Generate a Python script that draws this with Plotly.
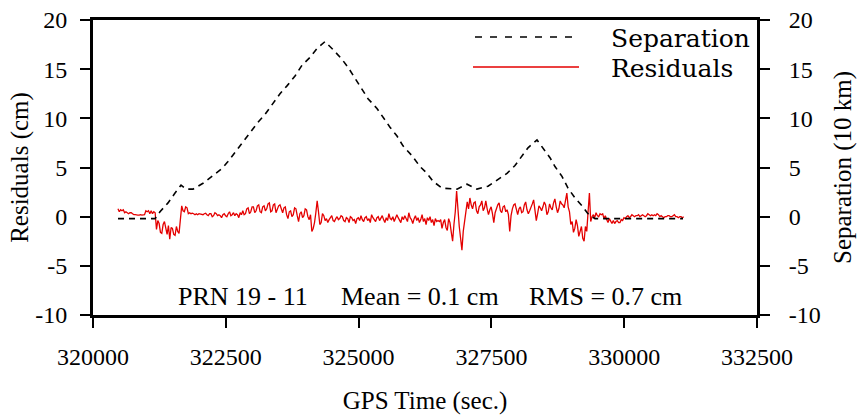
import plotly.graph_objects as go

# ---------------- data ----------------
sep_time = [320471, 321167, 321261, 321412, 321544, 321657, 321751, 321883, 322071, 322259,
            322428, 322541, 322711, 322824, 322993, 323106, 323238, 323389, 323520, 323652,
            323803, 323934, 324085, 324217, 324367, 324518, 324687, 324800, 324932, 325064,
            325177, 325346, 325459, 325591, 325723, 325836, 326005, 326156, 326288, 326401,
            326570, 326852, 327041, 327229, 327436, 327624, 327794, 327944, 328076, 328189,
            328358, 328471, 328603, 328697, 328829, 328942, 329074, 329205, 329318, 329450,
            331107]
sep_value = [-0.2, -0.2, 0.5, 1.4, 2.4, 3.2, 2.8, 2.8, 3.4, 4.2,
             4.9, 5.6, 6.8, 7.7, 8.9, 9.6, 10.4, 11.5, 12.5, 13.3,
             14.3, 15.4, 16.2, 17.1, 17.8, 17.0, 16.0, 15.2, 14.1, 13.0,
             12.0, 11.0, 10.1, 9.1, 8.2, 7.2, 6.2, 5.1, 4.4, 3.6,
             2.9, 2.8, 3.3, 2.8, 3.1, 3.8, 4.4, 5.2, 6.2, 7.0,
             7.8, 7.0, 6.0, 5.1, 4.1, 2.9, 1.9, 1.1, 0.3, -0.2,
             -0.2]

res_start = 320470
res_step = 25
res_value = [
    # early segment
    0.8, 0.5, 0.7, 0.6, 0.7, 0.4, 0.5, 0.4, 0.3, 0.4, 0.4, 0.3, 0.2, 0.2, 0.15, 0.15, 0.15, 0.2, 0.15,
    0.2, 0.2, 0.6, 0.5, 0.6, 0.3, 0.6, 0.3, 0.5, 0.4,
    # first dip
    -1.3, -0.4, -0.7, -1.6, -1.7, -0.8, -0.5, -1.4, -1.8, -0.9, -2.3, -1.1, -1.2, -1.8, -1.9, -1.0,
    -1.5, -1.7, -0.6,
    # quiet rise
    1.1, 0.6, 0.5, 1.0, 0.9, 0.3, 0.4, 0.3, 0.35, 0.3, 0.2, 0.3, 0.2, 0.3, 0.25, 0.2, 0.2, 0.3, 0.35,
    0.2, 0.1, 0.3, 0.3, 0.0, 0.1, 0.4, 0.3, 0.1, 0.2, 0.1, -0.1, 0.2, 0.3, 0.1, 0.0, 0.3, 0.5, 0.1,
    0.2, 0.4, 0.1, 0.3, 0.2, -0.1, 0.4, 0.2,
    0.6, 0.2, 0.3, 0.8, 0.9, 0.3, 0.5, 1.0, 1.0, 0.4, 0.6, 1.1, 1.2, 0.5, 0.4, 1.0, 1.1, 0.6, 0.8,
    1.3, 1.4, 0.5, 0.6, 1.2, 1.3, 0.4, 0.7, 1.1, 1.2, 0.8,
    0.4, 0.9, 1.0, 0.2, -0.2, 0.5, 0.6, 0.0, 0.2, 0.9, 0.8, 0.1, -0.5, 0.3, 0.5, -0.1, 0.1, 0.8, 0.7,
    0.0, -0.3, 0.2,
    -1.5, -1.2, -0.6, 0.4, 1.6, 0.5, -0.8, -0.6, 0.3, 0.1, -0.4, -0.2, -0.6,
    # long quiet stretch
    -0.3, -0.1, 0.1, -0.4, -0.5, -0.2, 0.0, -0.3, -0.2, 0.1,
    0.0, -0.4, -0.5, -0.1, -0.2, -0.6, 0.0, -0.1, -0.4, -0.3,
    -0.7, -0.2, -0.1, -0.4, 0.1, -0.3, -0.5, -0.1, 0.0, -0.4,
    -0.2, -0.6, 0.2, -0.1, -0.3, -0.5, -0.1, 0.0, -0.4, -0.2,
    0.1, -0.3, -0.6, -0.1, -0.4, 0.3, -0.2, -0.3, 0.0, -0.5,
    -0.2, 0.2, -0.1, -0.4, -0.6, 0.0, -0.3, 0.1, -0.2, -0.5,
    0.4, -0.1, -0.3, -0.7, -0.2, 0.1, -0.4, -0.1, -0.6, -0.3,
    0.2, -0.5, -0.2, -0.8, -0.1, -0.4, 0.0, -0.6, -0.3, -0.9,
    -0.2, -0.5, -0.4,
    # noisy middle
    -0.5, -0.3, -1.2, -0.6, -0.3, -1.1, -1.4, -0.2, -0.6, -1.6, -2.5, -0.8, 0.5, 2.6,
    0.5, -1.0, -2.2, -3.4, -1.5, -0.5, 0.3, 1.5, 0.8,
    1.9, 1.2, 0.8, 1.4, 1.5, 0.6, 0.3, 1.0, 1.2, 1.6,
    0.6, 0.9, 1.6, 0.8, 0.2, 0.7, 1.0, 0.3, -0.6, 0.4,
    0.9, 1.2, 1.4, 0.6, 0.4, 1.0, 1.1, 0.5, 0.7, 0.2,
    -1.5, 0.1, 0.8, 1.2, 1.3, 0.6, 0.2, 0.8, 1.0, 0.4,
    0.5, 1.2, 1.5, 0.7, 0.3, 0.6, 0.9, 1.3, 1.7, 0.8,
    -0.4, 0.3, 1.1, 0.9, 0.6, 1.0, 1.5, 1.2, 0.2, 0.5,
    1.3, 0.9, 0.7, 1.4, 1.8, 1.0, 0.4, 0.8, 1.6, 1.3,
    1.2, 0.9, 1.9,
    2.4, 1.0, 0.5, -0.8, -0.5, -1.6, -1.2, -0.3, -0.9, -2.0, -1.5, -1.0, -2.2, -2.5, -1.0, -1.5, 0.5, 2.4,
    -0.5, 0.0, 0.2, -0.1, 0.4, 0.1, 0.0, 0.3, 0.2, 0.3, -0.2, 0.1,
    -0.3, -0.6, -0.2, -0.5, -0.7, -0.4, -0.7, -0.5, -0.4, -0.6, -0.6, -0.3, -0.4, -0.1, -0.2,
    # tail
    0.0, 0.1, -0.1, 0.0, 0.2, 0.1, 0.0, 0.1, 0.1, 0.2,
    0.0, 0.1, 0.2, 0.1, 0.0, 0.1, 0.3, 0.2, 0.1, 0.2,
    0.1, 0.2, 0.1, 0.3, 0.2, 0.0, 0.1, 0.0, -0.1, 0.0,
    0.0, 0.1, 0.1, 0.0, 0.0, 0.1, 0.2, 0.0, 0.0, -0.1,
    0.0, 0.0, -0.1, 0.0,
]
res_time = [res_start + i * res_step for i in range(len(res_value))]

x_ticks = [320000, 322500, 325000, 327500, 330000, 332500]
y_ticks = [-10, -5, 0, 5, 10, 15, 20]

label_prn = "PRN 19 - 11"
label_mean = "Mean = 0.1 cm"
label_rms = "RMS = 0.7 cm"

# ---------------- figure ----------------
SERIF = "Liberation Serif, Times New Roman, serif"
LEG = "DejaVu Serif, serif"
RED = "rgb(228,0,0)"

fig = go.Figure()
fig.add_trace(go.Scatter(x=res_time, y=res_value, mode="lines", name="Residuals",
                         line=dict(color=RED, width=1.3), showlegend=False))
fig.add_trace(go.Scatter(x=sep_time, y=sep_value, mode="lines", name="Separation", yaxis="y2",
                         line=dict(color="black", width=1.6, dash="6px,5px"), showlegend=False))

L, R, T, B = 93, 107, 20, 100
W, H = 864, 415
pw, ph = W - L - R, H - T - B


def px(xp):
    return (xp - L) / pw


def py(yp):
    return (H - B - yp) / ph


axis_common = dict(showgrid=False, zeroline=False, showline=True, linecolor="black", linewidth=3,
                   ticks="outside", ticklen=10, tickwidth=2, tickcolor="black", automargin=False,
                   tickfont=dict(family=SERIF, size=24, color="black"))

fig.update_layout(
    width=W, height=H,
    margin=dict(l=L, r=R, t=T, b=B),
    paper_bgcolor="white", plot_bgcolor="white",
    xaxis=dict(range=[320000, 332500], tickvals=x_ticks, ticktext=[str(v) for v in x_ticks],
               mirror=True, ticklabelstandoff=8,
               title=dict(text="GPS Time (sec.)", font=dict(family=SERIF, size=25, color="black"),
                          standoff=26),
               **axis_common),
    yaxis=dict(range=[-10, 20], tickvals=y_ticks, ticktext=[str(v) for v in y_ticks],
               mirror=True, ticklabelstandoff=8,
               title=dict(text="Residuals (cm)", font=dict(family=SERIF, size=25, color="black"),
                          standoff=0),
               **axis_common),
    yaxis2=dict(range=[-10, 20], tickvals=y_ticks, ticktext=[str(v) for v in y_ticks],
                overlaying="y", side="right", ticklabelstandoff=14,
                title=dict(text="Separation (10 km)", font=dict(family=SERIF, size=25, color="black"),
                           standoff=14),
                **axis_common),
    showlegend=False,
)

# legend drawn with paper-referenced shapes and text
fig.add_shape(type="line", xref="paper", yref="paper", x0=px(475), x1=px(580), y0=py(37), y1=py(37),
              line=dict(color="black", width=1.5, dash="7px,8px"))
fig.add_shape(type="line", xref="paper", yref="paper", x0=px(473), x1=px(579), y0=py(67), y1=py(67),
              line=dict(color=RED, width=1.5))
fig.add_annotation(xref="paper", yref="paper", x=px(609), y=py(38), text="Separation",
                   showarrow=False, xanchor="left", yanchor="middle",
                   font=dict(family=LEG, size=25, color="black"))
fig.add_annotation(xref="paper", yref="paper", x=px(609), y=py(68), text="Residuals",
                   showarrow=False, xanchor="left", yanchor="middle",
                   font=dict(family=LEG, size=25, color="black"))

for txt, xp in [(label_prn, 176), (label_mean, 339), (label_rms, 527)]:
    fig.add_annotation(xref="paper", yref="paper", x=px(xp), y=py(296), text=txt,
                       showarrow=False, xanchor="left", yanchor="middle",
                       font=dict(family=SERIF, size=26, color="black"))

fig.write_html("out.html")
